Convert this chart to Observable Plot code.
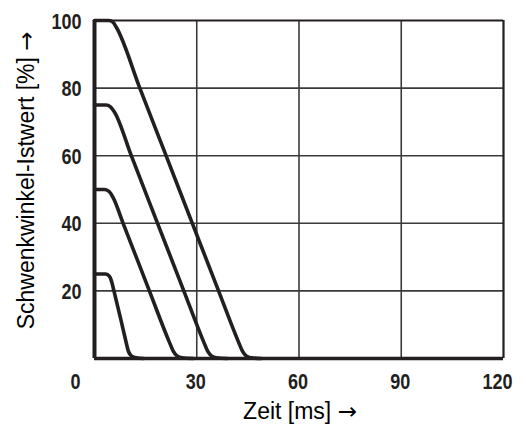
<!DOCTYPE html>
<html>
<head>
<meta charset="utf-8">
<script src="https://cdn.jsdelivr.net/npm/d3@7"></script>
<script src="https://cdn.jsdelivr.net/npm/@observablehq/plot@0.6"></script>
<style>
  html, body { margin: 0; padding: 0; background: #fff; }
  #chart svg { display: block; }
</style>
</head>
<body>
<div id="chart"></div>
<script>
// Curves: time [ms] and Schwenkwinkel-Istwert [%]
const t100 = [0, 4.2, 5.4, 6.4, 13.3, 21.0, 28.7, 36.4, 42.2, 43.4, 44.5, 46, 49];
const v100 = [100, 100, 99.5, 98, 80, 60, 40, 20, 5, 2.2, 0.8, 0.2, 0];
const t75 = [0, 3.4, 4.6, 5.8, 10.8, 18.5, 26.2, 32.0, 33.2, 34.3, 35.8, 39];
const v75 = [75, 75, 74.5, 73, 60, 40, 20, 5, 2.2, 0.8, 0.2, 0];
const t50 = [0, 3.0, 4.3, 5.5, 8.4, 16.1, 21.9, 23.1, 24.2, 25.7, 29];
const v50 = [50, 50, 49.4, 47.5, 40, 20, 5, 2.2, 0.8, 0.2, 0];
const t25 = [0, 3.3, 4.4, 5.1, 5.7, 7.8, 9.0, 10.0, 10.9, 12.2, 14.5];
const v25 = [25, 25, 24.3, 22.5, 20, 11.2, 6, 2, 0.7, 0.2, 0];

const xTicks = [0, 30, 60, 90, 120];
const yTicks = [20, 40, 60, 80, 100];
const xTitle = "Zeit [ms] →";
const yTitle = "Schwenkwinkel-Istwert [%] →";

const series = [
  {name: "100", t: t100, v: v100},
  {name: "75", t: t75, v: v75},
  {name: "50", t: t50, v: v50},
  {name: "25", t: t25, v: v25}
];
const rows = series.flatMap(s => s.t.map((t, i) => ({series: s.name, t, v: s.v[i]})));

const ink = "#231f20";
const grid = "#3a3a3a";
const tickFont = "'Liberation Sans', Arial, Helvetica, sans-serif";
const titleFont = "'Liberation Sans', Arial, Helvetica, sans-serif";

const inner = xTicks.filter(d => d > 0 && d < 120);
const tickStyle = {fontFamily: tickFont, fontWeight: "bold", fontSize: 22, fill: ink};
const chart = Plot.plot({
  width: 524,
  height: 428,
  marginLeft: 94,
  marginRight: 21,
  marginTop: 20,
  marginBottom: 70,
  x: {domain: [0, 120], axis: null},
  y: {domain: [0, 100], axis: null},
  marks: [
    Plot.ruleX(inner, {x: d => d, stroke: grid, strokeWidth: 1.6}),
    Plot.ruleY(yTicks.filter(d => d < 100), {y: d => d, stroke: grid, strokeWidth: 1.6}),
    Plot.ruleY([100], {stroke: ink, strokeWidth: 2}),
    Plot.ruleX([120], {stroke: ink, strokeWidth: 2.2}),
    Plot.line(rows, {x: "t", y: "v", z: "series", stroke: ink, strokeWidth: 3.6, curve: "monotone-x", strokeLinejoin: "round"}),
    Plot.ruleX([0], {stroke: ink, strokeWidth: 4}),
    Plot.ruleY([0], {stroke: ink, strokeWidth: 3.6}),
    // x tick labels
    Plot.text(inner, {x: d => d, y: 0, text: d => String(d), dy: 30, lineAnchor: "bottom", dx: -1, ...tickStyle}),
    Plot.text([xTicks[xTicks.length - 1]], {x: d => d, y: 0, text: d => String(d), dy: 30, lineAnchor: "bottom", dx: -6, ...tickStyle}),
    Plot.text([xTicks[0]], {x: d => d, y: 0, text: d => String(d), dy: 30, lineAnchor: "bottom", dx: -19, ...tickStyle}),
    // y tick labels
    Plot.text(yTicks, {x: 0, y: d => d, text: d => String(d), textAnchor: "end", dx: -13, dy: 1, ...tickStyle}),
    // titles
    Plot.text([xTitle], {x: 60, y: 0, text: d => d, dy: 60, lineAnchor: "bottom", fontFamily: titleFont, fontSize: 23, fill: "#000", dx: 1}),
    Plot.text([yTitle], {x: 0, y: 52.7, text: d => d, rotate: -90, dx: -68, fontFamily: titleFont, fontSize: 23, fill: "#000"})
  ]
});

const texts = Array.from(chart.querySelectorAll("text"));
// condense the bold tick digits (narrow bold face)
texts.filter(el => /^\d+$/.test(el.textContent.trim())).forEach(el => {
  const tr = el.getAttribute("transform");
  if (tr) {
    el.setAttribute("transform", tr + " scale(0.82,1)");
  } else {
    const x = +el.getAttribute("x") || 0, y = +el.getAttribute("y") || 0;
    el.removeAttribute("x"); el.removeAttribute("y");
    el.setAttribute("transform", `translate(${x},${y}) scale(0.82,1)`);
  }
});
// arrows in a face with a long thin arrow
texts.filter(el => el.textContent.includes("→")).forEach(el => {
  const s = el.textContent;
  const i = s.lastIndexOf("→");
  // keep any tspan structure simple: rebuild content
  while (el.firstChild) el.removeChild(el.firstChild);
  el.appendChild(document.createTextNode(s.slice(0, i)));
  const ts = document.createElementNS("http://www.w3.org/2000/svg", "tspan");
  ts.setAttribute("font-family", "'DejaVu Sans', sans-serif");
  ts.textContent = "→";
  el.appendChild(ts);
});
document.getElementById("chart").appendChild(chart);
</script>
</body>
</html>
